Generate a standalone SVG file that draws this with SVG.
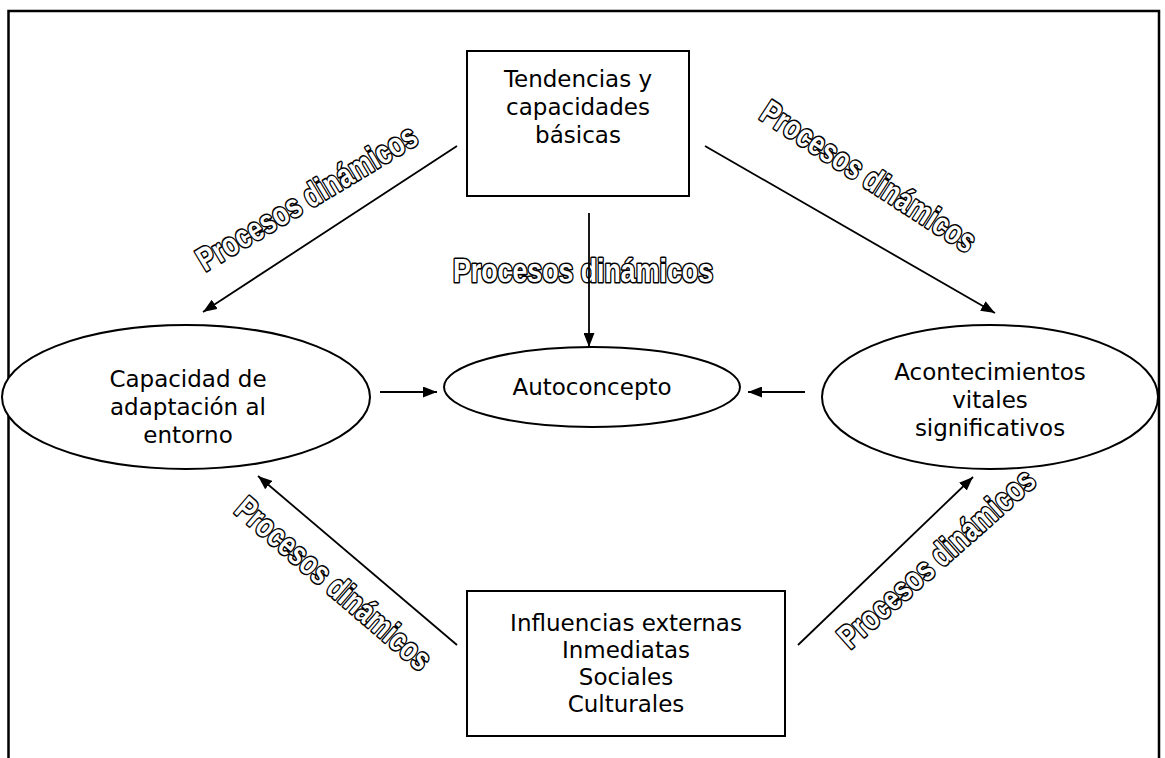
<svg xmlns="http://www.w3.org/2000/svg" width="1165" height="758" viewBox="0 0 1165 758">
<defs>
<marker id="ah" viewBox="0 0 14 11" refX="14" refY="5.5" markerWidth="14" markerHeight="11" markerUnits="userSpaceOnUse" orient="auto">
<path d="M0,0 L14,5.5 L0,11 Z" fill="#000"/>
</marker>
<style>
.shape{fill:#fff;stroke:#000;stroke-width:2}
.t{font-family:"DejaVu Sans",Verdana,sans-serif;font-size:23px;fill:#000;text-anchor:middle}
.lbl{font-family:"Liberation Sans",Arial,sans-serif;font-weight:bold;font-size:33px;fill:#fff;stroke:#000;stroke-width:3.2;stroke-linejoin:round;paint-order:stroke fill}
.c{stroke:#000;stroke-width:1.8;fill:none;marker-end:url(#ah)}
</style>
</defs>
<rect width="1165" height="758" fill="#fff"/>
<path d="M8.5,770 V11 H1159 V770" fill="none" stroke="#000" stroke-width="2.5"/>

<g id="n-tendencias">
<rect class="shape" x="467" y="51" width="222" height="145"/>
<text class="t" x="578" y="87">Tendencias y</text>
<text class="t" x="578" y="115">capacidades</text>
<text class="t" x="578" y="143">básicas</text>
</g>

<g id="n-influencias">
<rect class="shape" x="467" y="591" width="318" height="145"/>
<text class="t" x="626" y="631">Influencias externas</text>
<text class="t" x="626" y="658">Inmediatas</text>
<text class="t" x="626" y="685">Sociales</text>
<text class="t" x="626" y="712">Culturales</text>
</g>

<g id="n-capacidad">
<ellipse class="shape" cx="186" cy="397" rx="184" ry="72"/>
<text class="t" x="188" y="387">Capacidad de</text>
<text class="t" x="188" y="415">adaptación al</text>
<text class="t" x="188" y="443">entorno</text>
</g>

<g id="n-acontecimientos">
<ellipse class="shape" cx="990" cy="397" rx="168" ry="72"/>
<text class="t" x="990" y="380">Acontecimientos</text>
<text class="t" x="990" y="408">vitales</text>
<text class="t" x="990" y="436">significativos</text>
</g>

<g id="n-autoconcepto">
<ellipse class="shape" cx="592" cy="387" rx="148" ry="40"/>
<text class="t" x="592" y="395">Autoconcepto</text>
</g>

<g id="labels">
<text class="lbl" transform="translate(453,282)" textLength="260" lengthAdjust="spacingAndGlyphs">Procesos dinámicos</text>
<text class="lbl" transform="translate(205,272) rotate(-31)" textLength="251" lengthAdjust="spacingAndGlyphs">Procesos dinámicos</text>
<text class="lbl" transform="translate(758,118) rotate(33)" textLength="249" lengthAdjust="spacingAndGlyphs">Procesos dinámicos</text>
<text class="lbl" transform="translate(233,512) rotate(40.6)" textLength="246" lengthAdjust="spacingAndGlyphs">Procesos dinámicos</text>
<text class="lbl" transform="translate(850,650) rotate(-41.6)" textLength="251" lengthAdjust="spacingAndGlyphs">Procesos dinámicos</text>
</g>

<g id="connectors">
<line class="c" x1="589" y1="213" x2="589" y2="347"/>
<line class="c" x1="457" y1="146" x2="203" y2="312"/>
<line class="c" x1="705" y1="146" x2="995" y2="313"/>
<line class="c" x1="457" y1="645" x2="258" y2="476"/>
<line class="c" x1="798" y1="645" x2="973" y2="477"/>
<line class="c" x1="380" y1="392" x2="437" y2="392"/>
<line class="c" x1="805" y1="392" x2="748" y2="392"/>
</g>
</svg>
